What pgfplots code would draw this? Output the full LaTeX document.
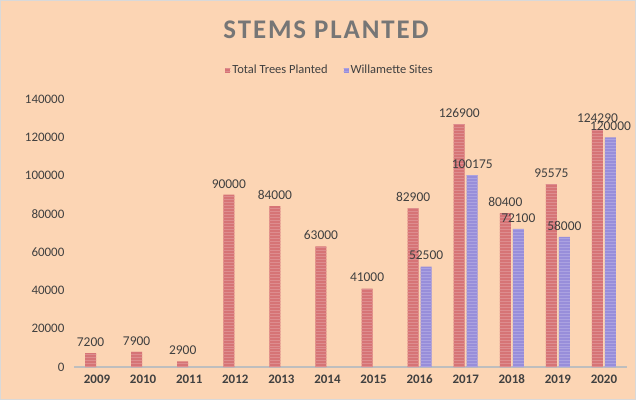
\documentclass[border=0pt]{standalone}
\usepackage{pgfplots}
\pgfplotsset{compat=1.18}
\usetikzlibrary{patterns}
\usepackage{fontspec}
\setmainfont{Carlito}
\definecolor{bg}{RGB}{252,213,180}
\definecolor{redc}{RGB}{214,116,118}
\definecolor{purc}{RGB}{152,142,218}
\definecolor{txt}{RGB}{64,64,64}
\definecolor{ttl}{RGB}{118,118,118}
\definecolor{axc}{RGB}{190,190,190}
\begin{document}
\begin{tikzpicture}[x=1bp,y=1bp]
\fill[bg] (0,0) rectangle (636,400);
\draw[gray!30, line width=1bp] (0.5,0.5) rectangle (635.5,399.5);
\node[font=\fontsize{27}{30}\selectfont\bfseries\addfontfeature{LetterSpace=7}, text=ttl] at (326,370) {STEMS PLANTED};
\begin{axis}[
  at={(74bp,33bp)}, anchor=south west,
  scale only axis, width=553bp, height=268bp,
  xmin=-0.5, xmax=11.5, ymin=0, ymax=140000,
  ybar=2bp, bar width=11bp,
  clip=false,
  axis x line=bottom, axis y line=left,
  y axis line style={draw=none},
  x axis line style={draw=axc, line width=1.2bp, -},
  tick style={draw=none},
  xtick={0,...,11},
  xticklabels={2009,2010,2011,2012,2013,2014,2015,2016,2017,2018,2019,2020},
  ytick={0,20000,40000,60000,80000,100000,120000,140000},
  yticklabels={0,20000,40000,60000,80000,100000,120000,140000},
  scaled y ticks=false,
  x tick label style={font=\fontsize{13}{15}\selectfont\bfseries, text=txt, yshift=-2bp},
  y tick label style={font=\fontsize{13}{15}\selectfont, text=txt, xshift=-4bp},
  point meta=explicit symbolic,
  nodes near coords={\pgfplotspointmeta},
  every node near coord/.append style={font=\fontsize{13.5}{15}\selectfont, text=txt, anchor=south, yshift=3bp},
  legend columns=2,
  legend style={at={(0.463,1.11)}, anchor=center, draw=none, fill=none,
    font=\fontsize{12.5}{14}\selectfont, text=txt,
    /tikz/every even column/.append style={column sep=14bp}},
  legend image code/.code={\fill[#1] (0bp,-3bp) rectangle (5bp,2bp);},
]
\addplot[fill=redc, draw=none, postaction={pattern=horizontal lines, pattern color=redc!82!white}] coordinates {
  (0,7200)[7200] (1,7900)[7900] (2,2900)[2900] (3,90000)[90000] (4,84000)[84000]
  (5,63000)[63000] (6,41000)[41000] (7,82900)[82900] (8,126900)[126900]
  (9,80400)[80400] (10,95575)[95575] (11,124290)[124290]
};
\addlegendentry{Total Trees Planted}
\addplot[fill=purc, draw=none, postaction={pattern=horizontal lines, pattern color=purc!82!white}] coordinates {
  (7,52500)[52500] (8,100175)[100175] (9,72100)[72100] (10,68000)[58000] (11,120000)[120000]
};
\addlegendentry{Willamette Sites}
\end{axis}
\end{tikzpicture}
\end{document}
